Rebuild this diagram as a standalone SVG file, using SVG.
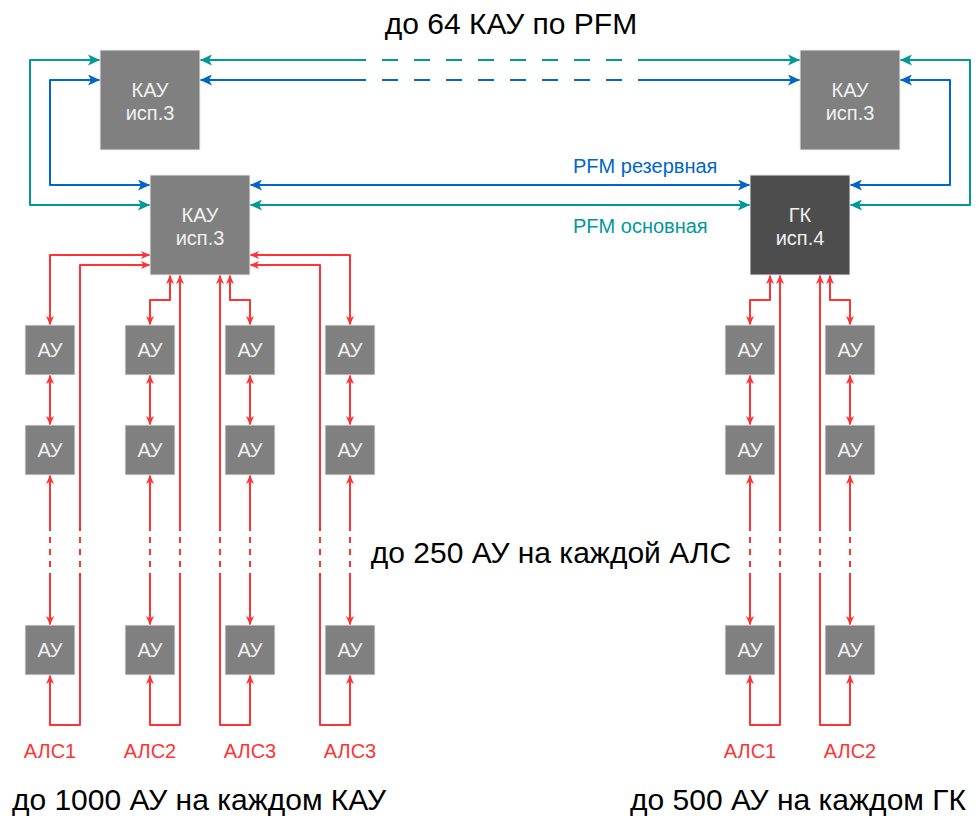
<svg xmlns="http://www.w3.org/2000/svg" width="980" height="825" viewBox="0 0 980 825">
<style>
text{font-family:"Liberation Sans",Arial,sans-serif}
.box{fill:#808080;stroke:#EEEEEE;stroke-width:1}
.dark{fill:#4D4D4D;stroke:#EEEEEE;stroke-width:1}
.bt{fill:#F0F0F0;font-size:20px;text-anchor:middle}
.t{stroke:#009999;stroke-width:2;fill:none;stroke-linejoin:round}
.b{stroke:#0066CC;stroke-width:2;fill:none;stroke-linejoin:round}
.r{stroke:#FF3333;stroke-width:2;fill:none;stroke-linejoin:round}
.tb{marker-start:url(#at);marker-end:url(#at)}
.bb{marker-start:url(#ab);marker-end:url(#ab)}
.rb{marker-start:url(#ar);marker-end:url(#ar)}
.ts{marker-start:url(#at)}.te{marker-end:url(#at)}
.bs{marker-start:url(#ab)}.be{marker-end:url(#ab)}
.rs{marker-start:url(#ar)}.re{marker-end:url(#ar)}
.dl{stroke-dasharray:16 16}
.dr{stroke-dasharray:6 6}
.big{font-size:30px;fill:#000}
.lab{font-size:20px;fill:#FF3333;text-anchor:middle}
</style>
<defs>
<marker id="at" markerUnits="userSpaceOnUse" markerWidth="12" markerHeight="11" refX="12" refY="5.5" orient="auto-start-reverse"><path d="M0,0 L12,5.5 L0,11 L3,5.5 Z" fill="#009999"/></marker>
<marker id="ab" markerUnits="userSpaceOnUse" markerWidth="12" markerHeight="11" refX="12" refY="5.5" orient="auto-start-reverse"><path d="M0,0 L12,5.5 L0,11 L3,5.5 Z" fill="#0066CC"/></marker>
<marker id="ar" markerUnits="userSpaceOnUse" markerWidth="9" markerHeight="8" refX="9" refY="4" orient="auto-start-reverse"><path d="M0,0 L9,4 L0,8 L2.5,4 Z" fill="#FF3333"/></marker>
</defs>
<rect width="980" height="825" fill="#FFFFFF"/>
<g id="connectors">
<path class="t tb" d="M100,60 H30 V205 H150"/>
<path class="b bb" d="M100,80 H50 V185 H150"/>
<path class="t ts" d="M200,60 H366"/>
<path class="t dl" d="M382,60 H624"/>
<path class="t te" d="M638,60 H800"/>
<path class="b bs" d="M200,80 H366"/>
<path class="b dl" d="M382,80 H624"/>
<path class="b be" d="M638,80 H800"/>
<path class="t tb" d="M900,60 H970 V205 H850"/>
<path class="b bb" d="M900,80 H950 V185 H850"/>
<path class="b bb" d="M250,185 H750"/>
<path class="t tb" d="M250,205 H750"/>
<!-- АЛС1 -->
<path class="r rb" d="M150,255 H50 V325"/>
<path class="r rb" d="M50,375 V425"/>
<path class="r rs" d="M50,475 V531"/><path class="r dr" d="M50,537 V567"/><path class="r re" d="M50,573 V625"/>
<path class="r re" d="M80,531 V265 H150"/><path class="r dr" d="M80,537 V567"/><path class="r rs" d="M50,675 V725 H80 V573"/>
<!-- АЛС2 -->
<path class="r rb" d="M170,275 V300 H150 V325"/>
<path class="r rb" d="M150,375 V425"/>
<path class="r rs" d="M150,475 V531"/><path class="r dr" d="M150,537 V567"/><path class="r re" d="M150,573 V625"/>
<path class="r rs" d="M180,275 V531"/><path class="r dr" d="M180,537 V567"/><path class="r re" d="M180,573 V725 H150 V675"/>
<!-- АЛС3 -->
<path class="r rb" d="M230,275 V300 H250 V325"/>
<path class="r rb" d="M250,375 V425"/>
<path class="r rs" d="M250,475 V531"/><path class="r dr" d="M250,537 V567"/><path class="r re" d="M250,573 V625"/>
<path class="r rs" d="M220,275 V531"/><path class="r dr" d="M220,537 V567"/><path class="r re" d="M220,573 V725 H250 V675"/>
<!-- АЛС4 -->
<path class="r rb" d="M250,255 H350 V325"/>
<path class="r rb" d="M350,375 V425"/>
<path class="r rs" d="M350,475 V531"/><path class="r dr" d="M350,537 V567"/><path class="r re" d="M350,573 V625"/>
<path class="r re" d="M320,531 V265 H250"/><path class="r dr" d="M320,537 V567"/><path class="r rs" d="M350,675 V725 H320 V573"/>
<!-- ГК АЛС1 -->
<path class="r rb" d="M770,275 V300 H750 V325"/>
<path class="r rb" d="M750,375 V425"/>
<path class="r rs" d="M750,475 V531"/><path class="r dr" d="M750,537 V567"/><path class="r re" d="M750,573 V625"/>
<path class="r rs" d="M780,275 V531"/><path class="r dr" d="M780,537 V567"/><path class="r re" d="M780,573 V725 H750 V675"/>
<!-- ГК АЛС2 -->
<path class="r rb" d="M830,275 V300 H850 V325"/>
<path class="r rb" d="M850,375 V425"/>
<path class="r rs" d="M850,475 V531"/><path class="r dr" d="M850,537 V567"/><path class="r re" d="M850,573 V625"/>
<path class="r rs" d="M820,275 V531"/><path class="r dr" d="M820,537 V567"/><path class="r re" d="M820,573 V725 H850 V675"/>
</g>
<g id="kau-top-left"><rect class="box" x="100" y="50" width="100" height="100"/><text class="bt" x="150" y="97">КАУ</text><text class="bt" x="150" y="120">исп.3</text></g>
<g id="kau-top-right"><rect class="box" x="800" y="50" width="100" height="100"/><text class="bt" x="850" y="97">КАУ</text><text class="bt" x="850" y="120">исп.3</text></g>
<g id="kau-main"><rect class="box" x="150" y="175" width="100" height="100"/><text class="bt" x="200" y="222">КАУ</text><text class="bt" x="200" y="245">исп.3</text></g>
<g id="gk"><rect class="dark" x="750" y="175" width="100" height="100"/><text class="bt" x="800" y="222">ГК</text><text class="bt" x="800" y="245">исп.4</text></g>
<g id="au-1-1"><rect class="box" x="25" y="325" width="50" height="50"/><text class="bt" x="50" y="357">АУ</text></g>
<g id="au-1-2"><rect class="box" x="25" y="425" width="50" height="50"/><text class="bt" x="50" y="457">АУ</text></g>
<g id="au-1-3"><rect class="box" x="25" y="625" width="50" height="50"/><text class="bt" x="50" y="657">АУ</text></g>
<g id="au-2-1"><rect class="box" x="125" y="325" width="50" height="50"/><text class="bt" x="150" y="357">АУ</text></g>
<g id="au-2-2"><rect class="box" x="125" y="425" width="50" height="50"/><text class="bt" x="150" y="457">АУ</text></g>
<g id="au-2-3"><rect class="box" x="125" y="625" width="50" height="50"/><text class="bt" x="150" y="657">АУ</text></g>
<g id="au-3-1"><rect class="box" x="225" y="325" width="50" height="50"/><text class="bt" x="250" y="357">АУ</text></g>
<g id="au-3-2"><rect class="box" x="225" y="425" width="50" height="50"/><text class="bt" x="250" y="457">АУ</text></g>
<g id="au-3-3"><rect class="box" x="225" y="625" width="50" height="50"/><text class="bt" x="250" y="657">АУ</text></g>
<g id="au-4-1"><rect class="box" x="325" y="325" width="50" height="50"/><text class="bt" x="350" y="357">АУ</text></g>
<g id="au-4-2"><rect class="box" x="325" y="425" width="50" height="50"/><text class="bt" x="350" y="457">АУ</text></g>
<g id="au-4-3"><rect class="box" x="325" y="625" width="50" height="50"/><text class="bt" x="350" y="657">АУ</text></g>
<g id="au-5-1"><rect class="box" x="725" y="325" width="50" height="50"/><text class="bt" x="750" y="357">АУ</text></g>
<g id="au-5-2"><rect class="box" x="725" y="425" width="50" height="50"/><text class="bt" x="750" y="457">АУ</text></g>
<g id="au-5-3"><rect class="box" x="725" y="625" width="50" height="50"/><text class="bt" x="750" y="657">АУ</text></g>
<g id="au-6-1"><rect class="box" x="825" y="325" width="50" height="50"/><text class="bt" x="850" y="357">АУ</text></g>
<g id="au-6-2"><rect class="box" x="825" y="425" width="50" height="50"/><text class="bt" x="850" y="457">АУ</text></g>
<g id="au-6-3"><rect class="box" x="825" y="625" width="50" height="50"/><text class="bt" x="850" y="657">АУ</text></g>
<g id="labels">
<text class="big" x="511" y="34" text-anchor="middle">до 64 КАУ по PFM</text>
<text x="573" y="173" font-size="20" fill="#0066CC">PFM резервная</text>
<text x="573" y="233" font-size="20" fill="#009999">PFM основная</text>
<text class="big" x="551" y="563" text-anchor="middle">до 250 АУ на каждой АЛС</text>
<text class="big" x="199" y="810" text-anchor="middle">до 1000 АУ на каждом КАУ</text>
<text class="big" x="798" y="810" text-anchor="middle">до 500 АУ на каждом ГК</text>
<text class="lab" x="50" y="758">АЛС1</text>
<text class="lab" x="150" y="758">АЛС2</text>
<text class="lab" x="250" y="758">АЛС3</text>
<text class="lab" x="350" y="758">АЛС3</text>
<text class="lab" x="750" y="758">АЛС1</text>
<text class="lab" x="850" y="758">АЛС2</text>
</g>
</svg>
